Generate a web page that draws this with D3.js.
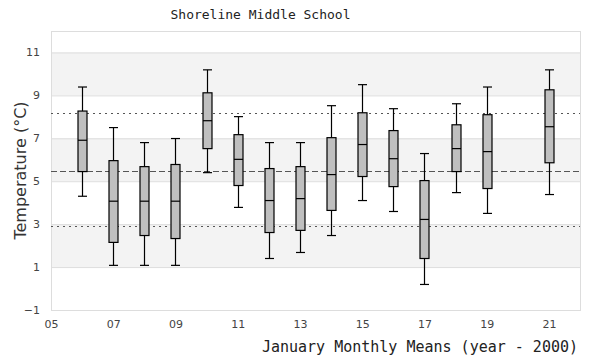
<!DOCTYPE html>
<html>
<head>
<meta charset="utf-8">
<script src="https://cdn.jsdelivr.net/npm/d3@7"></script>
<style>
  body { margin: 0; background: #fff; }
  .tick text { font-family: "DejaVu Sans", sans-serif; font-size: 11px; fill: #444; }
  .mono { font-family: "DejaVu Sans Mono", monospace; fill: #222; }
</style>
</head>
<body>
<div class="chart"></div>
<script>
'use strict';

// January monthly means, box stats per year (year - 2000)
var years = [6, 7, 8, 9, 10, 11, 12, 13, 14, 15, 16, 17, 18, 19, 21];
var whiskerLow = [4.30, 1.08, 1.08, 1.08, 5.40, 3.78, 1.40, 1.68, 2.47, 4.10, 3.59, 0.19, 4.47, 3.50, 4.38];
var q1 = [5.45, 2.15, 2.47, 2.33, 6.52, 4.80, 2.61, 2.71, 3.64, 5.22, 4.75, 1.40, 5.45, 4.66, 5.86];
var median = [6.91, 4.07, 4.07, 4.07, 7.82, 6.02, 4.10, 4.19, 5.31, 6.71, 6.05, 3.22, 6.52, 6.38, 7.54];
var q3 = [8.27, 5.96, 5.68, 5.78, 9.12, 7.17, 5.59, 5.68, 7.03, 8.19, 7.36, 5.03, 7.63, 8.10, 9.26];
var whiskerHigh = [9.39, 7.50, 6.80, 6.99, 10.19, 8.01, 6.80, 6.80, 8.52, 9.50, 8.38, 6.29, 8.61, 9.39, 10.19];

// overall mean and +/- one standard deviation
var refMean = 5.49;
var refUpper = 8.19;
var refLower = 2.91;

var xTicks = [5, 7, 9, 11, 13, 15, 17, 19, 21];
var yTicks = [-1, 1, 3, 5, 7, 9, 11];

var margin = {top: 31, right: 20, bottom: 50, left: 51},
  width = 600 - margin.left - margin.right,
  height = 360 - margin.top - margin.bottom;

var x = d3.scaleLinear().domain([5, 22]).range([0, width]);
var y = d3.scaleLinear().domain([-1, 12]).range([height, 0]);

var svg = d3.select('.chart').append('svg')
  .attr('width', 600)
  .attr('height', 360);

var g = svg.append('g')
  .attr('transform', 'translate(' + margin.left + ',' + margin.top + ')');

// alternating bands
var bands = [[9, 11], [5, 7], [1, 3]];
g.selectAll('.band')
  .data(bands)
  .enter().append('rect')
  .attr('x', 0)
  .attr('width', width)
  .attr('y', function(d) { return y(d[1]); })
  .attr('height', function(d) { return y(d[0]) - y(d[1]); })
  .attr('fill', '#f3f3f3');

// grid lines
g.selectAll('.grid')
  .data(yTicks)
  .enter().append('line')
  .attr('x1', 0)
  .attr('x2', width)
  .attr('y1', function(d) { return y(d) + 0.5; })
  .attr('y2', function(d) { return y(d) + 0.5; })
  .attr('stroke', '#dddddd');

// frame
g.append('rect')
  .attr('x', 0.5)
  .attr('y', 0.5)
  .attr('width', width)
  .attr('height', height)
  .attr('fill', 'none')
  .attr('stroke', '#dddddd');

// reference lines
var refs = [
  {v: refUpper, dash: '2,4'},
  {v: refMean, dash: '6,3'},
  {v: refLower, dash: '2,4'}
];
g.selectAll('.ref')
  .data(refs)
  .enter().append('line')
  .attr('x1', 0)
  .attr('x2', width)
  .attr('y1', function(d) { return Math.round(y(d.v)) + 0.5; })
  .attr('y2', function(d) { return Math.round(y(d.v)) + 0.5; })
  .attr('stroke', '#555')
  .attr('stroke-dasharray', function(d) { return d.dash; });

// axes
var xAxis = g.append('g')
  .attr('transform', 'translate(0,' + height + ')')
  .call(d3.axisBottom(x).tickValues(xTicks).tickSize(0).tickPadding(10)
    .tickFormat(function(d) { return d3.format('02d')(d); }));
xAxis.select('.domain').remove();

var yAxis = g.append('g')
  .call(d3.axisLeft(y).tickValues(yTicks).tickSize(0).tickPadding(11));
yAxis.select('.domain').remove();

// boxes
var boxW = 8;
var data = years.map(function(yr, i) {
  return {year: yr, lo: whiskerLow[i], q1: q1[i], med: median[i], q3: q3[i], hi: whiskerHigh[i]};
});

var box = g.selectAll('.box')
  .data(data)
  .enter().append('g')
  .attr('class', 'box')
  .attr('transform', function(d) { return 'translate(' + Math.round(x(d.year)) + ',0)'; });

box.append('line')
  .attr('x1', 0.5).attr('x2', 0.5)
  .attr('y1', function(d) { return y(d.hi); })
  .attr('y2', function(d) { return y(d.lo); })
  .attr('stroke', '#000').attr('stroke-width', 1.2);

box.append('line')
  .attr('x1', -boxW / 2).attr('x2', boxW / 2 + 1)
  .attr('y1', function(d) { return y(d.hi); })
  .attr('y2', function(d) { return y(d.hi); })
  .attr('stroke', '#000').attr('stroke-width', 1.2);

box.append('line')
  .attr('x1', -boxW / 2).attr('x2', boxW / 2 + 1)
  .attr('y1', function(d) { return y(d.lo); })
  .attr('y2', function(d) { return y(d.lo); })
  .attr('stroke', '#000').attr('stroke-width', 1.2);

box.append('rect')
  .attr('x', -boxW / 2)
  .attr('width', boxW + 1)
  .attr('y', function(d) { return y(d.q3); })
  .attr('height', function(d) { return y(d.q1) - y(d.q3); })
  .attr('fill', '#bfbfbf')
  .attr('stroke', '#000')
  .attr('stroke-width', 1.2);

box.append('line')
  .attr('x1', -boxW / 2).attr('x2', boxW / 2 + 1)
  .attr('y1', function(d) { return y(d.med); })
  .attr('y2', function(d) { return y(d.med); })
  .attr('stroke', '#000').attr('stroke-width', 1.2);

// titles
svg.append('text')
  .attr('class', 'mono')
  .attr('x', 260.5)
  .attr('y', 19)
  .attr('text-anchor', 'middle')
  .style('font-size', '13px')
  .text('Shoreline Middle School');

svg.append('text')
  .attr('class', 'mono')
  .attr('x', 578)
  .attr('y', 352)
  .attr('text-anchor', 'end')
  .style('font-size', '15px')
  .text('January Monthly Means (year - 2000)');

svg.append('text')
  .attr('transform', 'translate(26,' + (margin.top + height / 2) + ') rotate(-90)')
  .attr('text-anchor', 'middle')
  .style('font-family', '"DejaVu Sans", sans-serif')
  .style('font-size', '16px')
  .style('fill', '#333')
  .text('Temperature (°C)');
</script>
</body>
</html>
